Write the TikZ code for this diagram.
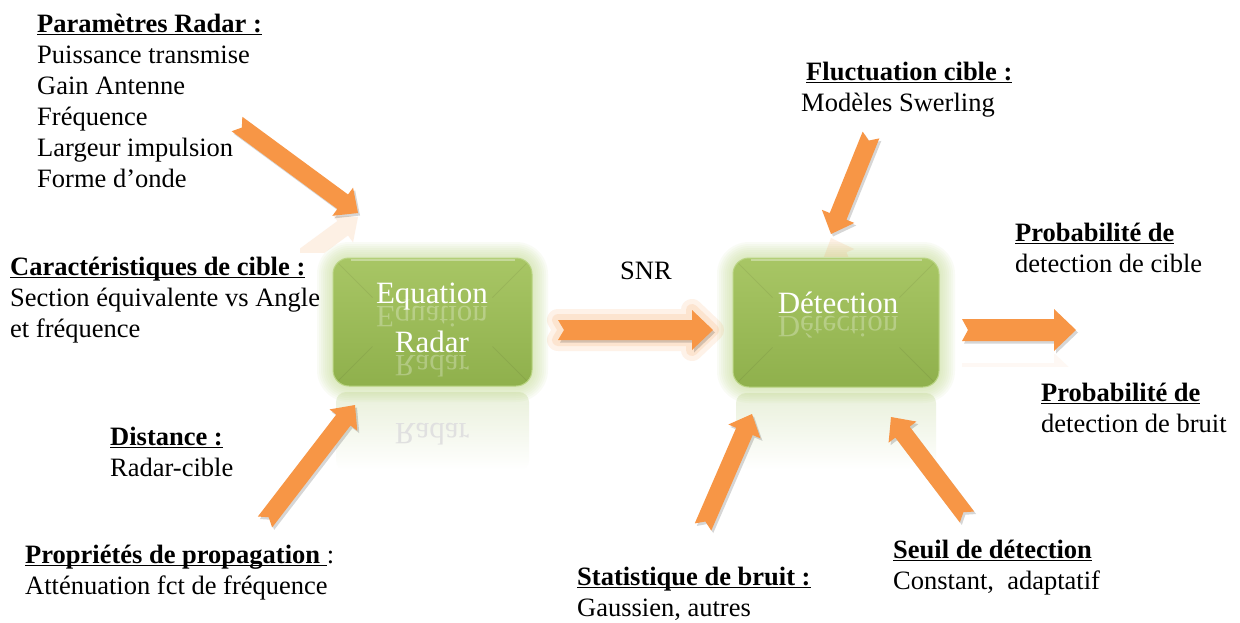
\documentclass[tikz,border=0pt]{standalone}
\usepackage{fontspec}
\setmainfont{Liberation Serif}
\usetikzlibrary{calc}

\definecolor{arroworange}{HTML}{F79646}
\definecolor{boxgreen}{HTML}{9BBB59}
\definecolor{boxtop}{HTML}{A8C665}
\definecolor{boxbot}{HTML}{8FB04C}
\definecolor{boxedge}{HTML}{B9D482}
\definecolor{glowgreen}{HTML}{C6DD94}

% bold heading with a flat underline close to the baseline
\newcommand\headline[1]{\setbox0\hbox{#1}\rlap{\rule[-3.4pt]{\wd0}{1.7pt}}\box0}

% notched block arrow from a tail coordinate to a tip coordinate
\def\aw{10pt}\def\ah{20pt}\def\al{21pt}\def\an{6pt}
\newcommand\blockarrow[3][]{%
  \coordinate (#2-h) at ($(#3)!\al!(#2)$);
  \def\arrowshape{($(#2)!\aw!90:(#3)$) -- ($(#2)!\an!(#3)$) -- ($(#2)!\aw!-90:(#3)$)
    -- ($(#2-h)!\aw!-90:(#3)$) -- ($(#2-h)!\ah!-90:(#3)$) -- (#3)
    -- ($(#2-h)!\ah!90:(#3)$) -- ($(#2-h)!\aw!90:(#3)$) -- cycle}%
  #1%
  \fill[black, opacity=0.16, transform canvas={shift={(2pt,-2.5pt)}}] \arrowshape;
  \fill[arroworange] \arrowshape;
}
\newcommand\glowshape{%
  \draw[arroworange, opacity=0.12, line width=22pt, line join=round] \arrowshape;
  \draw[arroworange, opacity=0.15, line width=12pt, line join=round] \arrowshape;
}

\begin{document}
\begin{tikzpicture}[x=1pt, y=-1pt,
  % multi-line labels are anchored at the baseline of their last line
  txt/.style={font=\fontsize{26.5}{31}\selectfont, align=left, anchor=base west, inner sep=0pt},
  boxtxt/.style={font=\fontsize{31}{40}\selectfont, text=white, anchor=base, inner sep=0pt},
  boxmirror/.style={boxtxt, text opacity=0.28},
  greenbox/.style={rounded corners=16pt, top color=boxtop, bottom color=boxbot,
    draw=boxedge, line width=1pt, inner sep=0pt},
]
\useasboundingbox (0,0) rectangle (1240,622);
\fill[white] (0,0) rectangle (1240,622);

% ---------- blocks: glow, reflection, body ----------
\coordinate (eqc) at (432.5,322);
\coordinate (dtc) at (836,322.5);

% reflections below the blocks
\shade[top color=boxgreen!22, bottom color=white, rounded corners=10pt]
  (336,392) rectangle (529,470);
\shade[top color=boxgreen!22, bottom color=white, rounded corners=10pt]
  (736,393) rectangle (936,470);

% soft glow
\foreach \g in {2,4,...,16}{
  \fill[glowgreen, opacity=0.09, rounded corners={16+\g}]
    ($(eqc)+(-99.5-\g,-64-\g)$) rectangle ($(eqc)+(99.5+\g,64+\g)$);
  \fill[glowgreen, opacity=0.09, rounded corners={16+\g}]
    ($(dtc)+(-103-\g,-64.5-\g)$) rectangle ($(dtc)+(103+\g,64.5+\g)$);
}

\node[greenbox, minimum width=199pt, minimum height=128pt] (eq) at (eqc) {};
\node[greenbox, minimum width=206pt, minimum height=129pt] (det) at (dtc) {};

% soft bevel: faint corner diagonals and a light top rim
\foreach \b/\w/\h in {eq/99.5/64, det/103/64.5}{
  \draw[black, opacity=0.06, line width=1pt]
    ($(\b.north west)+(6,6)$) -- ($(\b.north west)+(40,40)$)
    ($(\b.north east)+(-6,6)$) -- ($(\b.north east)+(-40,40)$)
    ($(\b.south west)+(6,-6)$) -- ($(\b.south west)+(40,-40)$)
    ($(\b.south east)+(-6,-6)$) -- ($(\b.south east)+(-40,-40)$);
  \draw[white, opacity=0.35, line width=1.5pt]
    ($(\b.north west)+(18,2.5)$) -- ($(\b.north east)+(-18,2.5)$);
}

% block texts and their reflections
\node[boxtxt] (eq1) at (432,303) {Equation};
\node[boxmirror] (eq1r) at (432,306) {\scalebox{1}[-1]{Equation}};
\node[boxtxt] (eq2) at (432,352) {Radar};
\node[boxmirror] (eq2r) at (432,355) {\scalebox{1}[-1]{Radar}};
\node[boxtxt, text=black!12] (eq2f) at (432,423) {\scalebox{1}[-1]{Radar}};
\node[boxtxt] (dt1) at (838,313) {Détection};
\node[boxmirror] (dt1r) at (838,316) {\scalebox{1}[-1]{Détection}};

% ---------- arrows ----------
\coordinate (a1t) at (237,124);  \coordinate (a1h) at (358,213);
\coordinate (a2t) at (265,522);  \coordinate (a2h) at (355,405);
\coordinate (a3t) at (558,330);  \coordinate (a3h) at (713,330);
\coordinate (a4t) at (962,330);  \coordinate (a4h) at (1076,330);
\coordinate (a5t) at (871,135);  \coordinate (a5h) at (831,234);
\coordinate (a6t) at (703,527);  \coordinate (a6h) at (752,414);
\coordinate (a7t) at (967,517);  \coordinate (a7h) at (891,417);

% faint mirrored tips
\coordinate (r1t) at (237,306);  \coordinate (r1h) at (358,217);
\coordinate (r5t) at (871,337);  \coordinate (r5h) at (831,238);
\begin{scope}
  \clip (300,216) rectangle (380,252);
  \def\aw{9pt}\def\ah{17.5pt}\def\al{19pt}
  \coordinate (r1t-h) at ($(r1h)!\al!(r1t)$);
  \fill[arroworange, opacity=0.14] ($(r1t)!\aw!90:(r1h)$) -- ($(r1t)!\aw!-90:(r1h)$)
    -- ($(r1t-h)!\aw!-90:(r1h)$) -- ($(r1t-h)!\ah!-90:(r1h)$) -- (r1h)
    -- ($(r1t-h)!\ah!90:(r1h)$) -- ($(r1t-h)!\aw!90:(r1h)$) -- cycle;
\end{scope}
\begin{scope}
  \clip (805,237) rectangle (865,256);
  \def\aw{9pt}\def\ah{17.5pt}\def\al{19pt}
  \coordinate (r5t-h) at ($(r5h)!\al!(r5t)$);
  \fill[arroworange, opacity=0.14] ($(r5t)!\aw!90:(r5h)$) -- ($(r5t)!\aw!-90:(r5h)$)
    -- ($(r5t-h)!\aw!-90:(r5h)$) -- ($(r5t-h)!\ah!-90:(r5h)$) -- (r5h)
    -- ($(r5t-h)!\ah!90:(r5h)$) -- ($(r5t-h)!\aw!90:(r5h)$) -- cycle;
\end{scope}
\begin{scope}
  \clip (955,354) rectangle (1085,366);
  \fill[arroworange, opacity=0.06] (962,363) rectangle (1054,385);
  \fill[arroworange, opacity=0.06] (1054,353) -- (1054,395) -- (1076,374) -- cycle;
\end{scope}

% diagonal inputs (slimmer)
\begin{scope}
  \def\aw{9pt}\def\ah{17.5pt}\def\al{19pt}\def\an{6pt}
  \blockarrow{a1t}{a1h}
  \blockarrow{a2t}{a2h}
  \blockarrow{a5t}{a5h}
  \blockarrow{a6t}{a6h}
  \blockarrow{a7t}{a7h}
\end{scope}
% SNR arrow with its glow
\blockarrow[\glowshape]{a3t}{a3h}
% output arrow
\begin{scope}
  \def\aw{11pt}\def\ah{21pt}\def\al{22pt}
  \blockarrow{a4t}{a4h}
\end{scope}

% ---------- labels ----------
\node[txt] (radarpar) at (37,187) {\headline{\textbf{Paramètres Radar :}}\\Puissance transmise\\Gain Antenne\\Fréquence\\Largeur impulsion\\Forme d’onde};
\node[txt] (cible) at (10,337) {\headline{\textbf{Caractéristiques de cible :}}\\Section équivalente vs Angle\\et fréquence};
\node[txt] (dist) at (110,476) {\headline{\textbf{Distance :}}\\Radar-cible};
\node[txt] (prop) at (25,594) {\headline{\textbf{Propriétés de propagation} }:\\Atténuation fct de fréquence};
\node[txt] (snr) at (620,279) {SNR};
\node[txt] (fluct) at (801,111) {\hspace*{5pt}\headline{\textbf{Fluctuation cible :}}\\Modèles Swerling};
\node[txt] (pdc) at (1015,272) {\headline{\textbf{Probabilité de}}\\detection de cible};
\node[txt] (pdb) at (1041,432) {\headline{\textbf{Probabilité de}}\\detection de bruit};
\node[txt] (seuil) at (893,589) {\headline{\textbf{Seuil de détection}}\\Constant,\ \ adaptatif};
\node[txt] (stat) at (577,616) {\headline{\textbf{Statistique de bruit :}}\\Gaussien, autres};
\end{tikzpicture}
\end{document}
